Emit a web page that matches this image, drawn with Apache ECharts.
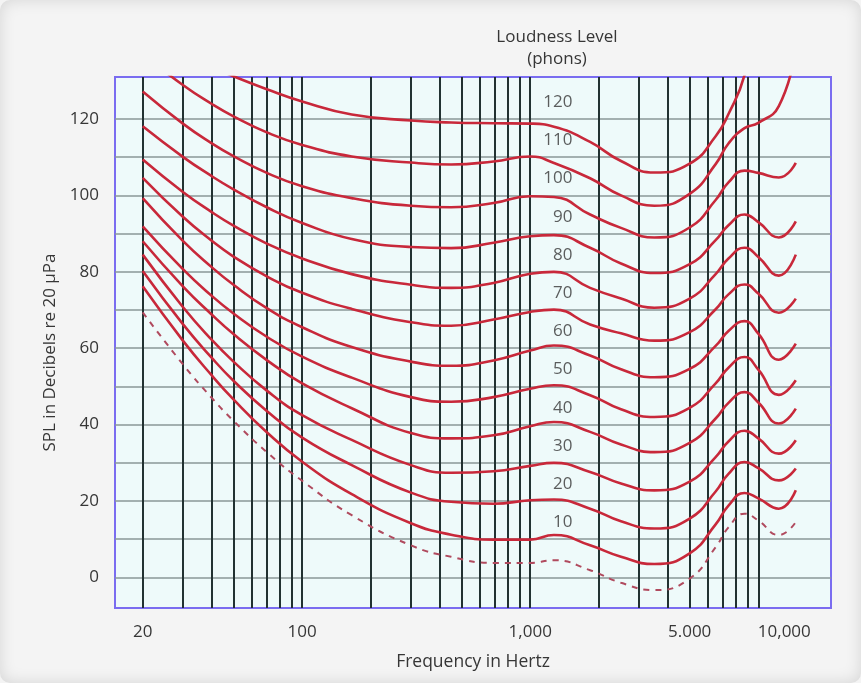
<!DOCTYPE html>
<html>
<head>
<meta charset="utf-8">
<script src="https://cdn.jsdelivr.net/npm/echarts@6.0.0/dist/echarts.min.js"></script>
<style>
  html, body { margin: 0; padding: 0; }
  body { background: #f4f4f4; }
  #main {
    width: 861px; height: 683px;
    box-shadow: inset 0 0 16px rgba(0, 0, 0, 0.13);
    border-radius: 10px;
  }
</style>
</head>
<body>
<div id="main"></div>
<script>
var freqHz = [20, 30, 40, 50, 70, 100, 165, 300, 450, 690, 1000, 1270, 1830, 2500, 3500, 5000, 6500, 7400, 8700, 10000, 12300, 14600]

var phons = [120, 110, 100, 90, 80, 70, 60, 50, 40, 30, 20, 10]

// SPL (dB) of each equal loudness curve at freqHz
var spl120 = [142.5, 137.1, 133.7, 131.2, 127.8, 124.6, 121.2, 119.6, 119.1, 118.9, 118.8, 118, 114, 109, 106, 108.3, 115.5, 121.3, 131.5, 150, null, null]
var spl110 = [137, 128.9, 124, 120.7, 116.5, 113.2, 110.2, 108.6, 108.1, 108.9, 110.2, 108.5, 104.5, 100, 97.3, 100.4, 108.2, 113.6, 117.6, 119, 123.4, 138]
var spl100 = [127.2, 118.8, 113.7, 110.3, 105.9, 102.4, 99.3, 97.3, 96.9, 98, 99.8, 99.6, 95, 91.5, 89, 91.6, 98.8, 103.4, 106.5, 105.9, 104.7, 108.5]
var spl90 = [118.1, 110.1, 105.1, 101.6, 96.9, 92.8, 88.6, 86.5, 86.2, 87.6, 89.3, 89.6, 86.3, 82.2, 79.7, 82, 88.3, 92.2, 95, 93, 89, 93.2]
var spl80 = [109.4, 100.9, 95.7, 92.1, 87.4, 83.5, 79.4, 76.6, 75.8, 77.1, 79.5, 80, 75.8, 73, 70.6, 73, 79.4, 83.5, 86.3, 83.9, 79, 84.5]
var spl70 = [104.6, 94.4, 88.2, 84, 78.8, 74.5, 70.3, 66.8, 65.9, 67.5, 69.5, 70.1, 66.2, 63.9, 62, 64.2, 70.2, 74.1, 76.7, 74.3, 69.3, 73]
var spl60 = [99.3, 88.1, 81.3, 76.6, 70.5, 65.5, 60.3, 56.5, 55.4, 56.8, 59.4, 60.7, 58.1, 54.5, 52.4, 54.6, 60.6, 64.5, 67.1, 63.8, 57, 61.2]
var spl50 = [91.9, 80.7, 73.8, 69.1, 63, 57.8, 52.3, 47.2, 46, 47.2, 49.4, 50.3, 47.7, 44, 42, 44.4, 50.8, 54.9, 57.7, 54.4, 47.8, 51.6]
var spl40 = [88, 76.2, 68.9, 63.7, 56.9, 50.8, 44.3, 37.8, 36.4, 37.2, 39.6, 40.7, 38.1, 34.8, 32.8, 35.2, 41.6, 45.7, 48.5, 45.8, 40.3, 44.2]
var spl30 = [84.5, 70.8, 62.3, 56.5, 48.9, 42.5, 36, 29.4, 27.4, 27.8, 29.2, 30, 27.6, 24.6, 22.8, 25.1, 31.5, 35.6, 38.4, 36.4, 32.4, 35.9]
var spl20 = [80.2, 66.3, 57.6, 51.5, 43.6, 36.6, 29.4, 22.2, 19.8, 19.3, 20.2, 20.4, 18, 14.7, 12.8, 15.4, 22.5, 27.1, 30.2, 28.6, 25.4, 28.5]
var spl10 = [76.2, 62, 53, 46.6, 38, 30.3, 21.8, 14.2, 11.2, 9.9, 9.9, 11.1, 8.4, 5.4, 3.5, 6.3, 13.9, 18.8, 22.1, 20.7, 18, 22.8]
// threshold of hearing (dashed)
var threshold = [69.4, 55.8, 47.1, 41, 32.8, 25.3, 16.3, 8.4, 5.4, 3.8, 3.8, 4.5, 1.9, -1.4, -3.3, -0.3, 7.9, 13.1, 16.7, 14.9, 11.1, 14.5]

// axis ticks
var gridHz = [20, 30, 40, 50, 60, 70, 80, 90, 100, 200, 300, 400, 500, 600, 700, 800, 900,
  1000, 2000, 3000, 4000, 5000, 6000, 7000, 8000, 9000, 10000]
var labelHz = [20, 100, 1000, 5000, 10000]
var labelHzText = ['20', '100', '1,000', '5.000', '10,000']
var gridDb = [0, 10, 20, 30, 40, 50, 60, 70, 80, 90, 100, 110, 120]
var labelDb = [0, 20, 40, 60, 80, 100, 120]

var font = 'Open Sans'
var textColor = '#363636'

function lg (v) { return Math.log10(v) }

function toPoints (arr) {
  var pts = []
  freqHz.forEach(function (f, i) {
    if (arr[i] !== null) pts.push([lg(f), arr[i]])
  })
  return pts
}

var curves = [spl120, spl110, spl100, spl90, spl80, spl70, spl60, spl50, spl40, spl30, spl20, spl10]

var series = curves.map(function (arr, k) {
  return {
    name: phons[k] + ' phons',
    type: 'line',
    data: toPoints(arr),
    smooth: 0.5,
    symbol: 'none',
    silent: true,
    lineStyle: { color: '#c8283a', width: 2.6 },
    z: 3
  }
})

series.push({
  name: 'threshold',
  type: 'line',
  data: toPoints(threshold),
  smooth: 0.5,
  symbol: 'none',
  silent: true,
  lineStyle: { color: '#b04a5e', width: 2, type: [6, 6] },
  z: 3
})

// phon numbers, just above each curve
series.push({
  name: 'labels',
  type: 'scatter',
  symbolSize: 0,
  silent: true,
  data: phons.map(function (p) {
    return { name: String(p), value: [lg(1530), p + 4.4] }
  }),
  label: {
    show: true,
    position: 'left',
    distance: 0,
    formatter: '{b}',
    fontFamily: font,
    fontSize: 17,
    color: textColor
  },
  z: 4
})

var myChart = echarts.init(document.getElementById('main'), null, { renderer: 'canvas' })
myChart.setOption({
  animation: false,
  backgroundColor: 'transparent',
  graphic: [{
    type: 'text',
    x: 557,
    y: 26,
    style: {
      text: 'Loudness Level\n(phons)',
      align: 'center',
      verticalAlign: 'top',
      fontFamily: font,
      fontSize: 17,
      lineHeight: 22,
      fill: textColor
    }
  }],
  grid: {
    left: 115,
    right: 30,
    top: 77,
    bottom: 75,
    show: true,
    backgroundColor: '#eefafa',
    borderColor: '#7a6cf0',
    borderWidth: 2,
    outerBoundsMode: 'none'
  },
  xAxis: {
    type: 'value',
    min: lg(15.12),
    max: lg(20830),
    name: 'Frequency in Hertz',
    nameLocation: 'middle',
    nameGap: 45,
    nameTextStyle: { fontFamily: font, fontSize: 17.5, color: textColor },
    axisLine: { show: false },
    axisTick: { show: false, customValues: gridHz.map(lg) },
    splitLine: { show: true, lineStyle: { color: '#223232', width: 2 } },
    axisLabel: {
      customValues: labelHz.map(lg),
      margin: 16,
      fontFamily: font,
      fontSize: 17,
      color: textColor,
      formatter: function (v) {
        var hz = Math.round(Math.pow(10, v))
        var i = labelHz.indexOf(hz)
        var t = i >= 0 ? labelHzText[i] : ''
        return hz === 10000 ? '{s|' + t + '}' : t
      },
      rich: {
        s: { padding: [0, 0, 0, 52], fontFamily: font, fontSize: 17, color: textColor }
      }
    }
  },
  yAxis: {
    type: 'value',
    min: -8,
    max: 131,
    name: 'SPL in Decibels re 20 µPa',
    nameLocation: 'middle',
    nameGap: 54,
    nameTextStyle: { fontFamily: font, fontSize: 17, color: textColor, padding: [0, 20, 0, 0] },
    axisLine: { show: false },
    axisTick: { show: false, customValues: gridDb },
    splitLine: { show: true, lineStyle: { color: '#8a9797', width: 1.5 } },
    axisLabel: {
      customValues: labelDb,
      margin: 16,
      fontFamily: font,
      fontSize: 17,
      color: textColor
    }
  },
  series: series
})

window.onresize = function () {
  myChart.resize()
}
</script>
</body>
</html>
